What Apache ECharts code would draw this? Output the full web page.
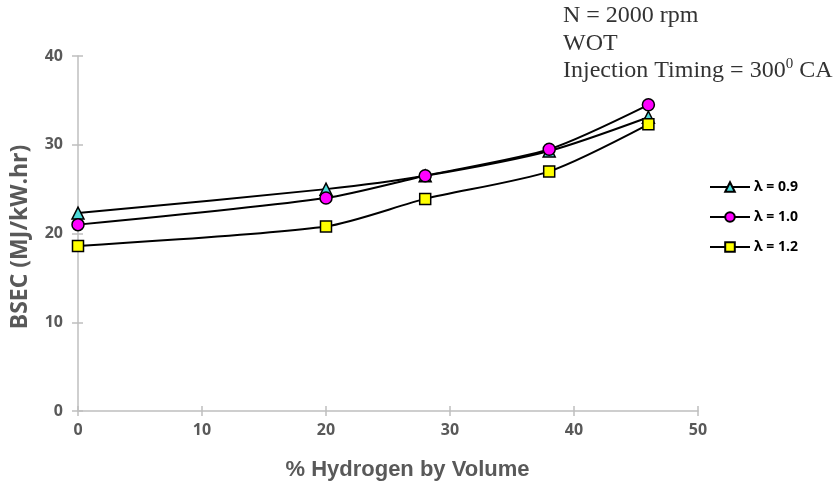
<!DOCTYPE html>
<html>
<head>
<meta charset="utf-8">
<script src="https://cdn.jsdelivr.net/npm/echarts@6/dist/echarts.min.js"></script>
<style>
  html, body { margin: 0; padding: 0; background: #fff; }
  #chart { width: 840px; height: 486px; }
</style>
</head>
<body>
<div id="chart"></div>
<script>
// Hydrogen fraction (% by volume) on the x axis
const hydrogen = [0, 20, 28, 38, 46];
// BSEC values (MJ/kW.hr) per excess-air ratio
const bsecLambda09 = [22.3, 25.0, 26.5, 29.3, 33.1];
const bsecLambda10 = [21.0, 24.0, 26.5, 29.5, 34.5];
const bsecLambda12 = [18.6, 20.8, 23.9, 27.0, 32.3];
const seriesNames = ['\u03bb = 0.9', '\u03bb = 1.0', '\u03bb = 1.2'];
const xTicks = { min: 0, max: 50, interval: 10 };
const yTicks = { min: 0, max: 40, interval: 10 };

const axisGrey = '#bfbfbf';
const labelGrey = '#595959';
const sansFont = '"Open Sans", "Noto Sans", sans-serif';
const arialFont = '"Liberation Sans", Arial, sans-serif';

function pairs(xs, ys) { return xs.map((x, i) => [x, ys[i]]); }

function lineSeries(name, ys, symbol, fill, size) {
  return {
    name: name,
    type: 'line',
    smooth: 0.25,
    data: pairs(hydrogen, ys),
    symbol: symbol,
    symbolSize: size,
    lineStyle: { color: '#000', width: 2 },
    itemStyle: { color: fill, borderColor: '#000', borderWidth: 1.5 },
    emphasis: { disabled: true }
  };
}

// companion axes that only draw the inner half of the cross-style tick marks
function innerTicks(range) {
  return {
    type: 'value',
    min: range.min, max: range.max, interval: range.interval,
    axisLine: { show: false },
    axisTick: { show: true, inside: true, length: 5, lineStyle: { color: axisGrey, width: 1.5 } },
    axisLabel: { show: false },
    splitLine: { show: false }
  };
}

const chart = echarts.init(document.getElementById('chart'));
chart.setOption({
  animation: false,
  backgroundColor: '#fff',
  grid: { left: 78, right: 142, top: 56, bottom: 75 },
  xAxis: [{
    type: 'value',
    min: xTicks.min, max: xTicks.max, interval: xTicks.interval,
    name: '% Hydrogen by Volume',
    nameLocation: 'middle',
    nameGap: 48,
    nameTextStyle: { color: labelGrey, fontSize: 22, fontWeight: 'bold', fontFamily: arialFont, padding: [0, 0, 0, 39] },
    axisLine: { lineStyle: { color: axisGrey, width: 1.5 } },
    axisTick: { show: true, length: 5, lineStyle: { color: axisGrey, width: 1.5 } },
    axisLabel: { color: labelGrey, fontSize: 16, fontWeight: 'bold', fontFamily: sansFont, margin: 11 },
    splitLine: { show: false }
  }, Object.assign(innerTicks(xTicks), { position: 'bottom' })],
  yAxis: [{
    type: 'value',
    min: yTicks.min, max: yTicks.max, interval: yTicks.interval,
    name: 'BSEC (MJ/kW.hr)',
    nameLocation: 'middle',
    nameGap: 46,
    nameTextStyle: { color: labelGrey, fontSize: 23, fontWeight: 'bold', fontFamily: sansFont, padding: [0, 7, 0, 0] },
    axisLine: { show: true, lineStyle: { color: axisGrey, width: 1.5 } },
    axisTick: { show: true, length: 6, lineStyle: { color: axisGrey, width: 1.5 } },
    axisLabel: { color: labelGrey, fontSize: 16, fontWeight: 'bold', fontFamily: sansFont, margin: 15 },
    splitLine: { show: false }
  }, Object.assign(innerTicks(yTicks), { position: 'left' })],
  legend: {
    orient: 'vertical',
    left: 704,
    top: 175,
    itemGap: 16,
    itemWidth: 40,
    itemHeight: 12,
    data: seriesNames,
    textStyle: { color: '#000', fontSize: 14, fontWeight: 'bold', fontFamily: sansFont, padding: [0, 0, 0, -1] }
  },
  graphic: [{
    type: 'text',
    left: 563,
    top: 2,
    style: {
      text: 'N = 2000 rpm\nWOT\nInjection Timing = 300{sup|0} CA',
      font: '24px "Liberation Serif", serif',
      fill: '#333',
      lineHeight: 27.5,
      rich: {
        sup: { fontSize: 15, verticalAlign: 'top', padding: [0, 0, 10, 0], fill: '#333', fontFamily: 'Liberation Serif' }
      }
    }
  }],
  series: [
    lineSeries(seriesNames[0], bsecLambda09, 'triangle', '#4dd9d9', 12),
    lineSeries(seriesNames[1], bsecLambda10, 'circle', '#ff00ff', 12),
    lineSeries(seriesNames[2], bsecLambda12, 'rect', '#ffff00', 11)
  ]
});
</script>
</body>
</html>
